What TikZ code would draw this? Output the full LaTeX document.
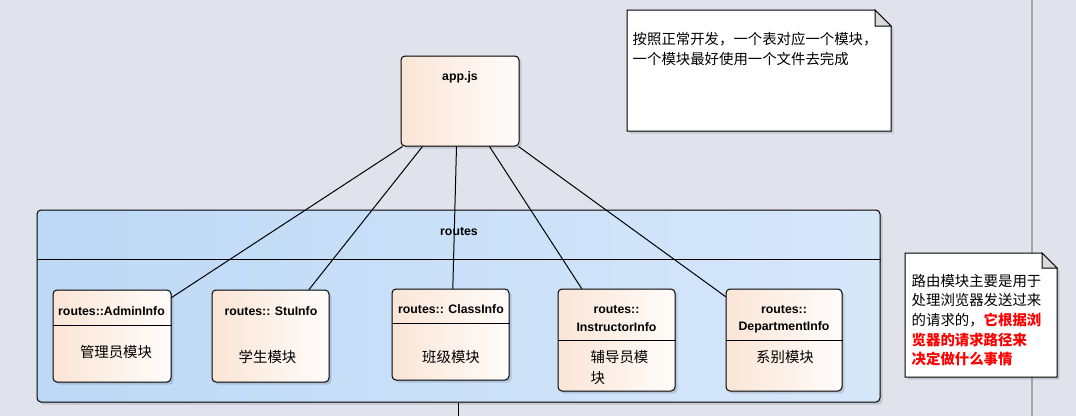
\documentclass[tikz,border=0pt]{standalone}
\usepackage{fontspec}
\newfontfamily\cjk{Noto Sans CJK SC}
\newfontfamily\lat{Liberation Sans}
\usetikzlibrary{calc,shadows}
\definecolor{bg}{HTML}{E0E3EC}
\definecolor{clsL}{HTML}{FAE5D6}
\definecolor{clsR}{HTML}{FFFCFA}
\definecolor{pkgL}{HTML}{BDD9F6}
\definecolor{pkgR}{HTML}{D7E7FA}
\definecolor{foldc}{HTML}{DADADA}
\definecolor{sepline}{HTML}{A6A6A6}
\definecolor{noteRed}{HTML}{FF0000}
\tikzset{
  shad/.style={drop shadow={shadow xshift=2.5pt, shadow yshift=-2.5pt, opacity=0.13, fill=black}},
  clsbox/.style={rectangle, draw=black, line width=1pt, rounded corners=4pt, left color=clsL, right color=clsR, shad, inner sep=0pt},
  pkgbox/.style={rectangle, draw=black, line width=1pt, rounded corners=4pt, left color=pkgL, right color=pkgR, shad, inner sep=0pt},
  ttl/.style={inner sep=0pt, font=\lat\bfseries\fontsize{12.3}{14}\selectfont},
  body/.style={inner sep=0pt, font=\cjk\fontsize{14.4}{18}\selectfont},
  notetxt/.style={inner sep=0pt, anchor=west, font=\cjk\fontsize{14.4}{18}\selectfont},
  conn/.style={draw=black, line width=1pt},
  notebox/.style={fill=white, draw=black, line width=1pt, shad},
  foldbox/.style={fill=foldc, draw=black, line width=1pt}
}
\begin{document}
\begin{tikzpicture}[x=1pt,y=-1pt]
\fill[bg] (0,0) rectangle (1076,416);
\useasboundingbox (0,0) rectangle (1076,416);

% vertical separator line
\draw[sepline, line width=2.5pt] (1032,0) -- (1032,416);

% routes package
\node[pkgbox, minimum width=843, minimum height=192] (routes) at (458.5,306) {};
\draw[line width=1pt] ($(routes.north west)+(0,50)$) -- ($(routes.north east)+(0,50)$);
\node[ttl] (routesT) at (459,232) {routes};
\coordinate (bottomEnd) at (458.5,416);
\draw[conn] (routes.south) -- (bottomEnd);

% app.js
\node[clsbox, minimum width=118, minimum height=90] (app) at (460,101) {};
\node[ttl] (appT) at (460,77) {app.js};

% class boxes (positions)
\coordinate (adminC) at (112,336);
\coordinate (stuC) at (270.5,336);
\coordinate (classC) at (450.5,334.5);
\coordinate (instrC) at (616.5,340);
\coordinate (deptC) at (784,340);

% placeholders for connector ends
\path (adminC) node[minimum width=118, minimum height=92, inner sep=0pt] (adminP) {};
\path (stuC) node[minimum width=117, minimum height=92, inner sep=0pt] (stuP) {};
\path (classC) node[minimum width=117, minimum height=91, inner sep=0pt] (classP) {};
\path (instrC) node[minimum width=117, minimum height=102, inner sep=0pt] (instrP) {};
\path (deptC) node[minimum width=116, minimum height=102, inner sep=0pt] (deptP) {};

\draw[conn] ($(app.south west)+(2,0)$) -- ($(adminP.north east)+(0,8)$);
\draw[conn] ($(app.south west)+(22,0)$) -- ($(stuP.north west)+(97,0)$);
\draw[conn] ($(app.south west)+(56,0)$) -- ($(classP.north west)+(61,0)$);
\draw[conn] ($(app.south west)+(89,0)$) -- ($(instrP.north west)+(24,0)$);
\draw[conn] ($(app.south east)+(-1,0)$) -- ($(deptP.north west)+(0,8)$);

% AdminInfo
\node[clsbox, minimum width=118, minimum height=92] (admin) at (adminC) {};
\draw[line width=1pt] ($(admin.north west)+(0,36)$) -- ($(admin.north east)+(0,36)$);
\node[ttl] (adminT) at (111.5,311) {routes::AdminInfo};
\node[body] (adminB) at (116,352) {管理员模块};

% StuInfo
\node[clsbox, minimum width=117, minimum height=92] (stu) at (stuC) {};
\node[ttl] (stuT) at (271,311) {routes:: StuInfo};
\node[body] (stuB) at (267.5,357) {学生模块};

% ClassInfo
\node[clsbox, minimum width=117, minimum height=91] (cls) at (classC) {};
\draw[line width=1pt] ($(cls.north west)+(0,35)$) -- ($(cls.north east)+(0,35)$);
\node[ttl] (classT) at (451,309) {routes:: ClassInfo};
\node[body] (classB) at (451,357) {班级模块};

% InstructorInfo
\node[clsbox, minimum width=117, minimum height=102] (instr) at (instrC) {};
\draw[line width=1pt] ($(instr.north west)+(0,52)$) -- ($(instr.north east)+(0,52)$);
\node[ttl] (instrT1) at (616.5,310) {routes::};
\node[ttl] (instrT2) at (616.5,327) {InstructorInfo};
\node[body, anchor=west] (instrB1) at (590.5,357) {辅导员模};
\node[body, anchor=west] (instrB2) at (590.5,378) {块};

% DepartmentInfo
\node[clsbox, minimum width=116, minimum height=102] (dept) at (deptC) {};
\draw[line width=1pt] ($(dept.north west)+(0,52)$) -- ($(dept.north east)+(0,52)$);
\node[ttl] (deptT1) at (784,310) {routes::};
\node[ttl] (deptT2) at (784,327) {DepartmentInfo};
\node[body] (deptB) at (785,357) {系别模块};

% note 1
\path[notebox] (627,10) -- (875,10) -- (891,26) -- (891,131) -- (627,131) -- cycle;
\path[foldbox] (875,10) -- (875,26) -- (891,26) -- cycle;
\node[notetxt] (n1a) at (632.5,39) {按照正常开发，一个表对应一个模块，};
\node[notetxt] (n1b) at (632.5,59) {一个模块最好使用一个文件去完成};

% note 2
\path[notebox] (905,253) -- (1042,253) -- (1057,268) -- (1057,377) -- (905,377) -- cycle;
\path[foldbox] (1042,253) -- (1042,268) -- (1057,268) -- cycle;
\node[notetxt] (n2a) at (911.5,281) {路由模块主要是用于};
\node[notetxt] (n2b) at (911.5,300.5) {处理浏览器发送过来};
\node[notetxt] (n2c) at (911.5,320) {的请求的，{\bfseries\color{noteRed}它根据浏}};
\node[notetxt, text=noteRed, font=\cjk\bfseries\fontsize{14.4}{18}\selectfont] (n2d) at (911.5,339.5) {览器的请求路径来};
\node[notetxt, text=noteRed, font=\cjk\bfseries\fontsize{14.4}{18}\selectfont] (n2e) at (911.5,359) {决定做什么事情};
\end{tikzpicture}
\end{document}
